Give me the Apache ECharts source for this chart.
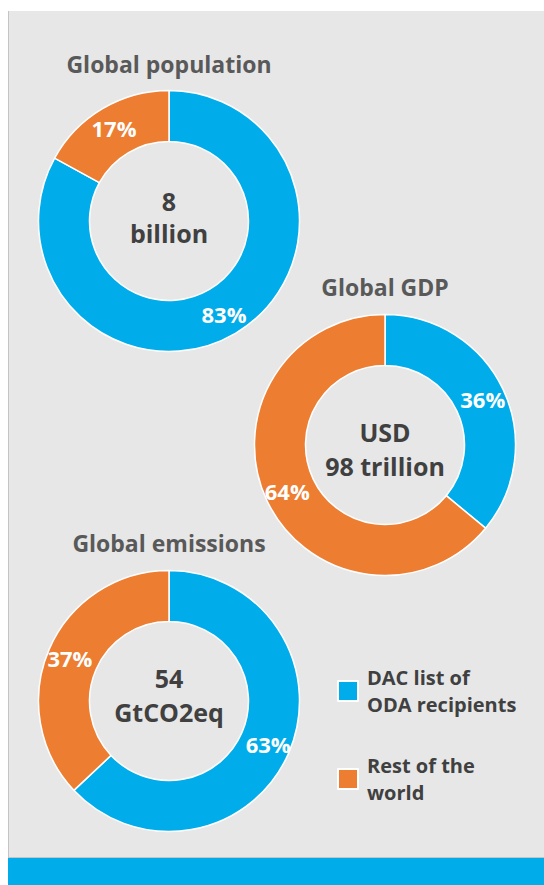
<!DOCTYPE html>
<html>
<head>
<meta charset="utf-8">
<style>
  html, body { margin: 0; padding: 0; background: #ffffff; }
  #chart { width: 544px; height: 885px; }
</style>
<script src="https://cdn.jsdelivr.net/npm/echarts@6/dist/echarts.min.js"></script>
</head>
<body>
<div id="chart"></div>
<script>
// Shares of the world held by countries on the DAC list of ODA recipients
const categories = ['DAC list of ODA recipients', 'Rest of the world'];
const legendText = ['DAC list of\nODA recipients', 'Rest of the\nworld'];
const populationShare = [83, 17];
const gdpShare = [36, 64];
const emissionsShare = [63, 37];
const panelTitles = ['Global population', 'Global GDP', 'Global emissions'];
const totals = [['8', 'billion'], ['USD', '98 trillion'], ['54', 'GtCO2eq']];

const BLUE = '#00ADEA';
const ORANGE = '#ED7D31';
const FONT = 'Open Sans';

// donut centre, title baseline area and the two centre-line offsets
const panels = [
  { share: populationShare, center: [169, 221], titleY: 64, lines: [-20.5, 12] },
  { share: gdpShare, center: [385, 445], titleY: 287, lines: [-13, 21] },
  { share: emissionsShare, center: [169, 701], titleY: 543, lines: [-23, 11] }
];

const chart = echarts.init(document.getElementById('chart'), null, { renderer: 'svg' });

const series = panels.map((p, i) => ({
  type: 'pie',
  name: panelTitles[i],
  center: p.center,
  radius: [79.5, 130.5],
  startAngle: 90,
  clockwise: true,
  avoidLabelOverlap: false,
  silent: true,
  itemStyle: { borderColor: '#ffffff', borderWidth: 1.5 },
  label: {
    show: true,
    position: 'inside',
    formatter: '{c}%',
    color: '#ffffff',
    fontFamily: FONT,
    fontWeight: 'bold',
    fontSize: 22
  },
  labelLine: { show: false },
  emphasis: { disabled: true },
  data: categories.map((c, k) => ({
    name: c,
    value: p.share[k],
    itemStyle: { color: k === 0 ? BLUE : ORANGE }
  }))
}));

const graphics = [
  // grey panel with a thin frame on the left and bottom
  { type: 'rect', z: -10, shape: { x: 8, y: 11, width: 536, height: 847 }, style: { fill: '#E7E7E7' } },
  { type: 'line', z: -9, shape: { x1: 8.5, y1: 11, x2: 8.5, y2: 858 }, style: { stroke: '#C4C4C4', lineWidth: 1 } },
  { type: 'line', z: -9, shape: { x1: 8, y1: 857.5, x2: 544, y2: 857.5 }, style: { stroke: '#C4C4C4', lineWidth: 1 } },
  // footer band
  { type: 'rect', z: -9, shape: { x: 8, y: 858, width: 536, height: 27 }, style: { fill: BLUE } }
];

panels.forEach((p, i) => {
  graphics.push({
    type: 'text',
    x: p.center[0], y: p.titleY,
    style: {
      text: panelTitles[i], fill: '#595959', font: 'bold 23px "' + FONT + '"',
      textAlign: 'center', textVerticalAlign: 'middle'
    }
  });
  totals[i].forEach((line, j) => {
    graphics.push({
      type: 'text',
      x: p.center[0], y: p.center[1] + p.lines[j],
      style: {
        text: line, fill: '#404040', font: 'bold 25px "' + FONT + '"',
        textAlign: 'center', textVerticalAlign: 'middle'
      }
    });
  });
});

chart.setOption({
  animation: false,
  backgroundColor: 'transparent',
  legend: {
    orient: 'vertical',
    left: 337,
    top: 664,
    padding: 0,
    itemWidth: 20,
    itemHeight: 20,
    itemGap: 34,
    icon: 'rect',
    selectedMode: false,
    data: categories.map((c, k) => ({ name: c, itemStyle: { color: k === 0 ? BLUE : ORANGE } })),
    formatter: name => legendText[categories.indexOf(name)],
    textStyle: {
      color: '#404040',
      fontFamily: FONT,
      fontWeight: 'bold',
      fontSize: 20,
      lineHeight: 27,
      padding: [0, 0, 0, 4]
    }
  },
  graphic: graphics,
  series: series
});
</script>
</body>
</html>
